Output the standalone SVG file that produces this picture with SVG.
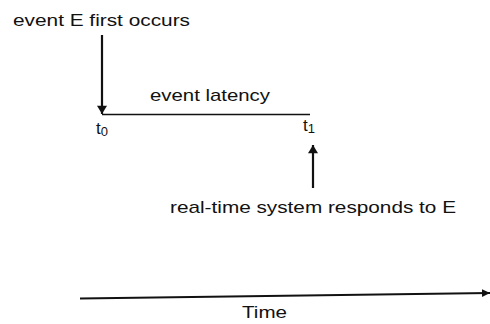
<svg xmlns="http://www.w3.org/2000/svg" width="490" height="324" viewBox="0 0 490 324">
<style>
text{font-family:"Liberation Sans",Arial,sans-serif;font-size:17px;fill:#111}
.ln{stroke:#111;fill:none}
</style>
<defs>
<marker id="ah" viewBox="0 0 10 12" refX="10" refY="6" markerWidth="12" markerHeight="10" markerUnits="userSpaceOnUse" orient="auto"><path d="M0,0 L10,6 L0,12 Z" fill="#111"/></marker>
<marker id="ah2" viewBox="0 0 10 10" refX="10" refY="5" markerWidth="8" markerHeight="9" markerUnits="userSpaceOnUse" orient="auto"><path d="M0,0 L10,5 L0,10 Z" fill="#111"/></marker>
</defs>
<rect width="490" height="324" fill="#fff"/>
<g id="connectors">
<line class="ln" x1="102" y1="35" x2="102" y2="114" stroke-width="2.2" marker-end="url(#ah)"/>
<line class="ln" x1="102" y1="114.5" x2="310" y2="114.5" stroke-width="1.3"/>
<line class="ln" x1="313" y1="188" x2="313" y2="145" stroke-width="2.2" marker-end="url(#ah)"/>
<line class="ln" x1="80" y1="298.5" x2="490" y2="293" stroke-width="2" marker-end="url(#ah2)"/>
</g>
<g id="event-occurs"><text x="13" y="26" textLength="177" lengthAdjust="spacingAndGlyphs">event E first occurs</text></g>
<g id="event-latency"><text x="150" y="101" textLength="120" lengthAdjust="spacingAndGlyphs">event latency</text></g>
<g id="t0"><text x="96" y="134">t<tspan font-size="13" dy="2">0</tspan></text></g>
<g id="t1"><text x="303" y="131">t<tspan font-size="13" dy="2">1</tspan></text></g>
<g id="responds"><text x="170" y="213" textLength="286" lengthAdjust="spacingAndGlyphs">real-time system responds to E</text></g>
<g id="time"><text x="242" y="318" textLength="45" lengthAdjust="spacingAndGlyphs">Time</text></g>
</svg>
